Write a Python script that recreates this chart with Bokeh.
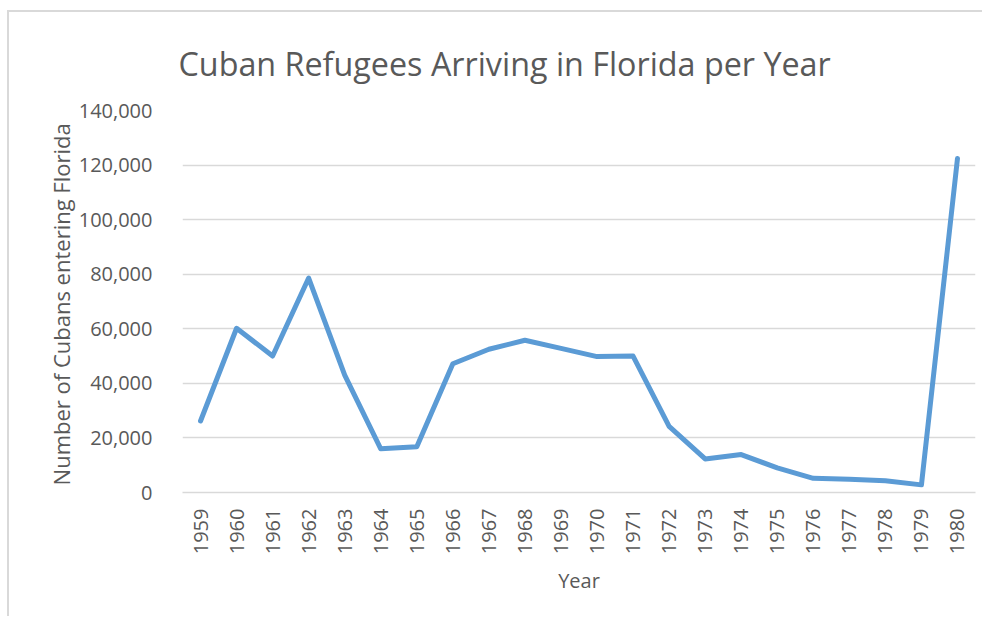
import math
from bokeh.plotting import figure
from bokeh.models import FactorRange, Range1d, NumeralTickFormatter, SingleIntervalTicker
from bokeh.embed import file_html
from bokeh.resources import INLINE

years = [str(y) for y in range(1959, 1981)]
refugees = [26200, 60200, 50000, 78600, 43000, 16000, 16800, 47200, 52500, 55800,
            52800, 49800, 50000, 24200, 12300, 13900, 9000, 5200, 4900, 4300, 2800, 122400]

TEXT = "#595959"
FONT = "Open Sans"

p = figure(width=975, height=606, x_range=FactorRange(factors=years),
           y_range=Range1d(0, 140000), output_backend="svg", toolbar_location=None,
           min_border_left=173, min_border_right=9, min_border_top=98, min_border_bottom=126)
p.styles = {"border-left": "2px solid #d9d9d9", "border-top": "2px solid #d9d9d9",
            "margin-left": "7px", "margin-top": "10px"}
p.outline_line_color = None
p.background_fill_color = "white"

p.title.text = "Cuban Refugees Arriving in Florida per Year"
p.title.align = "left"
p.title.offset = -4
p.title.standoff = 51
p.title.text_font = FONT
p.title.text_font_size = "32.3px"
p.title.text_font_style = "normal"
p.title.text_color = TEXT

p.line(x=years, y=refugees, line_color="#5B9BD5", line_width=5,
       line_join="round", line_cap="round")

p.xgrid.grid_line_color = None
p.ygrid.grid_line_color = "#d9d9d9"
p.ygrid.grid_line_width = 1.5

p.yaxis.ticker = SingleIntervalTicker(interval=20000)
p.yaxis.formatter = NumeralTickFormatter(format="0,0")
for ax in (p.xaxis, p.yaxis):
    ax.major_tick_line_color = None
    ax.minor_tick_line_color = None
    ax.major_label_text_color = TEXT
    ax.major_label_text_font = FONT
    ax.major_label_text_font_size = "20px"
    ax.axis_label_text_color = TEXT
    ax.axis_label_text_font = FONT
    ax.axis_label_text_font_size = "20px"
    ax.axis_label_text_font_style = "normal"
p.yaxis.axis_label_text_font_size = "22px"
p.yaxis.axis_line_color = None
p.xaxis.axis_line_color = "#d9d9d9"
p.xaxis.axis_line_width = 1.5
p.yaxis.major_label_standoff = 24
p.xaxis.major_label_standoff = 10
p.xaxis.major_label_orientation = math.pi / 2
p.yaxis.axis_label = "Number  of Cubans entering Florida"
p.xaxis.axis_label = "Year"
p.yaxis.axis_label_standoff = 0
p.xaxis.axis_label_standoff = 10

open("out.html", "w").write(file_html(p, INLINE))
